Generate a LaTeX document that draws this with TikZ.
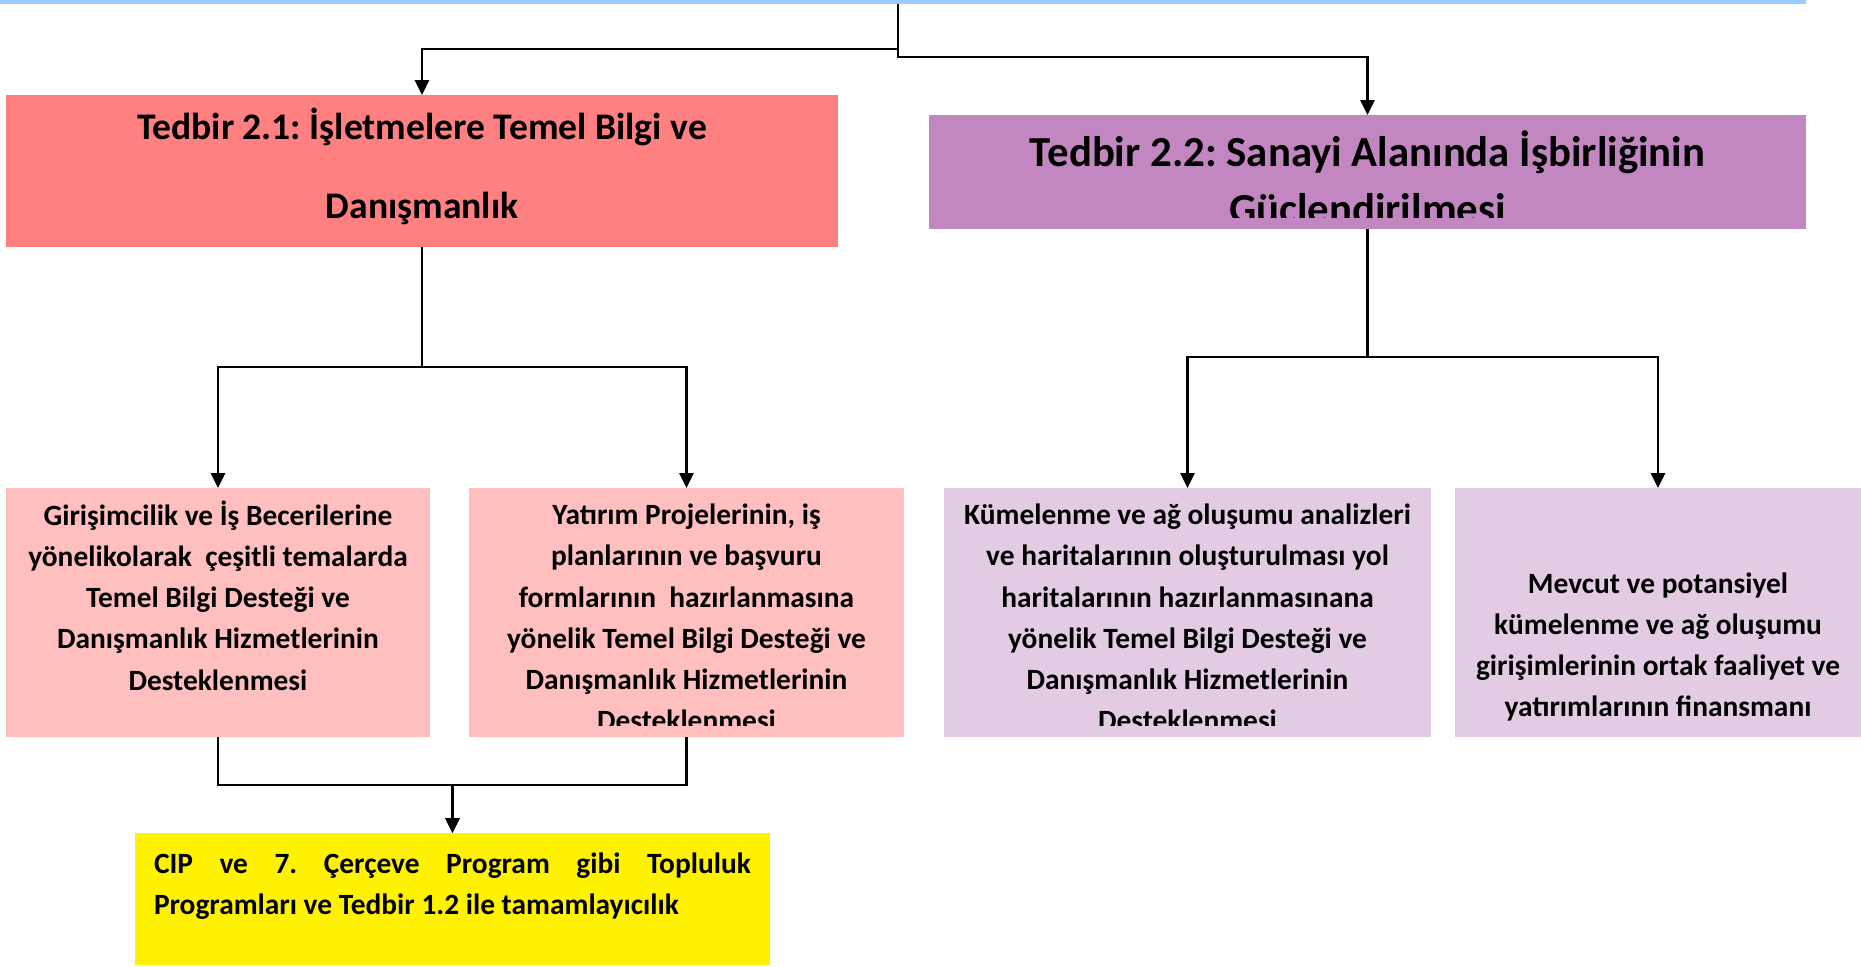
\documentclass[tikz,border=0pt]{standalone}
\usepackage{fontspec}
\setmainfont{Carlito}
\usetikzlibrary{arrows.meta}
\definecolor{headred}{RGB}{255,128,128}
\definecolor{headpurple}{RGB}{194,134,193}
\definecolor{lightred}{RGB}{255,191,191}
\definecolor{lightpurple}{RGB}{228,203,228}
\definecolor{topblue}{RGB}{153,204,255}
\frenchspacing
\tikzset{
  box/.style={inner sep=0pt,outer sep=0pt},
  head/.style={box,minimum height=76pt},
  sub/.style={box,minimum height=124.5pt},
  headtext/.style={align=center,font=\fontsize{18.8}{39.5}\selectfont\bfseries},
  subtext/.style={align=center,font=\fontsize{14.7}{20.6}\selectfont\bfseries},
  arr/.style={line width=1.4pt,-{Triangle[length=7.5pt,width=7pt]}},
  topline/.style={topblue,line width=2pt}
}
\begin{document}
\begin{tikzpicture}[x=0.5pt,y=-0.5pt]
\useasboundingbox (0,0) rectangle (1861,966);
\draw[topline] (0,2) -- (1806,2);
\coordinate (top) at (898,4);

\node[head,fill=headred,minimum width=416pt] (t21) at (422,171) {};
\node[box,fill=headpurple,minimum width=438.5pt,minimum height=57pt] (t22) at (1367.5,172) {};
\node[sub,fill=lightred,minimum width=212pt] (girisim) at (218,612.5) {};
\node[sub,fill=lightred,minimum width=217.5pt] (yatirim) at (686.5,612.5) {};
\node[sub,fill=lightpurple,minimum width=243.5pt] (kume) at (1187.5,612.5) {};
\node[sub,fill=lightpurple,minimum width=203pt] (mevcut) at (1658,612.5) {};
\node[box,fill=yellow,minimum width=317.5pt,minimum height=66pt] (cip) at (452.5,899) {};

\node[headtext] (t21txt) at (422,166.5) {Tedbir 2.1: İşletmelere Temel Bilgi ve\\Danışmanlık};
\begin{scope}
\clip (t22.north west) rectangle ([yshift=6pt]t22.south east);
\node[headtext,font=\fontsize{21.4}{28.5}\selectfont\bfseries] (t22txt) at (1367.5,180.5) {Tedbir 2.2: Sanayi Alanında İşbirliğinin\\Güçlendirilmesi};
\end{scope}
\node[subtext] (girisimtxt) at (218,595.5) {Girişimcilik ve İş Becerilerine\\yönelikolarak\ \ çeşitli temalarda\\Temel Bilgi Desteği ve\\Danışmanlık Hizmetlerinin\\Desteklenmesi};
\begin{scope}
\clip (yatirim.north west) rectangle ([yshift=6pt]yatirim.south east);
\node[subtext] (yatirimtxt) at (686.5,617.5) {Yatırım Projelerinin, iş\\planlarının ve başvuru\\formlarının\ \ hazırlanmasına\\yönelik Temel Bilgi Desteği ve\\Danışmanlık Hizmetlerinin\\Desteklenmesi};
\end{scope}
\begin{scope}
\clip (kume.north west) rectangle ([yshift=6pt]kume.south east);
\node[subtext] (kumetxt) at (1187.5,617.5) {Kümelenme ve ağ oluşumu analizleri\\ve haritalarının oluşturulması yol\\haritalarının hazırlanmasınana\\yönelik Temel Bilgi Desteği ve\\Danışmanlık Hizmetlerinin\\Desteklenmesi};
\end{scope}
\node[subtext] (mevcuttxt) at (1658,647) {Mevcut ve potansiyel\\kümelenme ve ağ oluşumu\\girişimlerinin ortak faaliyet ve\\yatırımlarının finansmanı};
\node[subtext,align=justify,text width=298.5pt] (ciptxt) at (452.5,886) {CIP ve 7. Çerçeve Program gibi Topluluk\linebreak Programları ve Tedbir 1.2 ile tamamlayıcılık};

\draw[arr] (top) -- ++(0,45) -| (t21.north);
\draw[arr] (top) -- ++(0,53) -| (t22.north);
\draw[arr] (t21.south) -- ++(0,120) -| (girisim.north);
\draw[arr] (t21.south) -- ++(0,120) -| (yatirim.north);
\draw[arr] (t22.south) -- ++(0,128) -| (kume.north);
\draw[arr] (t22.south) -- ++(0,128) -| (mevcut.north);
\draw[arr] (girisim.south) -- ++(0,48) -| (cip.north);
\draw[arr] (yatirim.south) -- ++(0,48) -| (cip.north);
\end{tikzpicture}
\end{document}
